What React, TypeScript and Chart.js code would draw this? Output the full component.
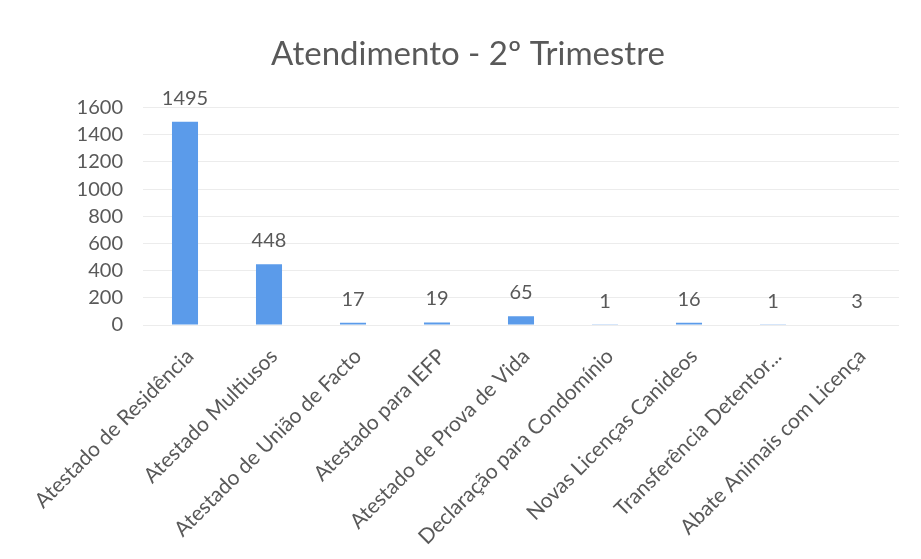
import React, { useEffect, useRef } from "react";
import { Chart, registerables } from "chart.js";

Chart.register(...registerables);

const categories = [
  "Atestado de Residência",
  "Atestado Multiusos",
  "Atestado de União de Facto",
  "Atestado para IEFP",
  "Atestado de Prova de Vida",
  "Declaração para Condomínio",
  "Novas Licenças Canideos",
  "Transferência Detentor...",
  "Abate Animais com Licença",
];
const values = [1495, 448, 17, 19, 65, 1, 16, 1, 3];
const chartTitle = "Atendimento - 2º Trimestre";
const yMax = 1600;
const yStep = 200;

const FONT = "Lato";
const TEXT = "#595959";
const BAR = "#5B9BEA";

const valueLabels = {
  id: "valueLabels",
  afterDatasetsDraw(chart: any) {
    const ctx = chart.ctx;
    const meta = chart.getDatasetMeta(0);
    ctx.save();
    ctx.fillStyle = TEXT;
    ctx.font = `20px ${FONT}`;
    ctx.textAlign = "center";
    ctx.textBaseline = "alphabetic";
    meta.data.forEach((bar: any, i: number) => {
      ctx.fillText(String(values[i]), bar.x, bar.y - 17);
    });
    ctx.restore();
  },
};

export default function App() {
  const ref = useRef<HTMLCanvasElement | null>(null);
  useEffect(() => {
    if (!ref.current) return;
    const chart = new Chart(ref.current, {
      type: "bar",
      data: {
        labels: categories,
        datasets: [
          {
            data: values,
            backgroundColor: BAR,
            borderWidth: 0,
            categoryPercentage: 1,
            barPercentage: 0.31,
          },
        ],
      },
      options: {
        responsive: false,
        animation: false,
        layout: { padding: { left: 37, right: 22, top: 22, bottom: 0 } },
        plugins: {
          legend: { display: false },
          tooltip: { enabled: false },
          title: {
            display: true,
            text: chartTitle,
            color: TEXT,
            font: { family: FONT, size: 33, weight: "normal" },
            padding: { top: 13, bottom: 33 },
          },
        },
        scales: {
          x: {
            grid: { display: false, drawTicks: false },
            border: { display: false },
            ticks: {
              color: TEXT,
              font: { family: FONT, size: 21 },
              minRotation: 45,
              maxRotation: 45,
              autoSkip: false,
              padding: 19,
              labelOffset: 5,
            },
            afterFit: (scale: any) => {
              scale.height = 559 - 325;
            },
          },
          y: {
            min: 0,
            max: yMax,
            ticks: {
              stepSize: yStep,
              color: TEXT,
              font: { family: FONT, size: 20 },
              padding: 20,
              callback: (v: any) => String(v),
            },
            grid: { color: "#ececec", drawTicks: false },
            border: { display: false },
            afterFit: (scale: any) => {
              scale.width = 106;
            },
          },
        },
      },
      plugins: [valueLabels],
    });
    return () => chart.destroy();
  }, []);
  return (
    <div style={{ position: "fixed", left: 0, top: 0, width: 921, height: 559, background: "#fff" }}>
      <canvas ref={ref} width={921} height={559} />
    </div>
  );
}
